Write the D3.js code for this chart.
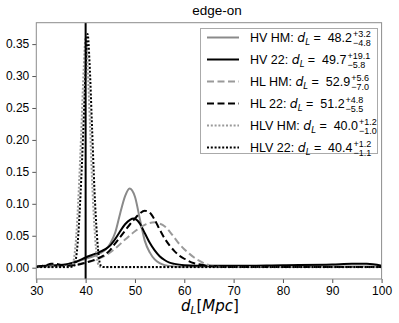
<!DOCTYPE html>
<html><head><meta charset="utf-8">
<script src="https://cdn.jsdelivr.net/npm/d3@7"></script>
<style>
html,body{margin:0;padding:0;background:#fff;}
svg{display:block;}
</style></head>
<body>
<svg id="chart" width="399" height="323"></svg>
<script>
// ---------- data ----------
const titleText = "edge-on";
const xTicks = [30, 40, 50, 60, 70, 80, 90, 100];
const yTicks = [0.00, 0.05, 0.10, 0.15, 0.20, 0.25, 0.30, 0.35];
const trueDL = 40;

const seriesNames = ["HV HM", "HV 22", "HL HM", "HL 22", "HLV HM", "HLV 22"];
const medians = ["48.2", "49.7", "52.9", "51.2", "40.0", "40.4"];
const plusErr = ["3.2", "19.1", "5.6", "4.8", "1.2", "1.2"];
const minusErr = ["4.8", "5.8", "7.0", "5.5", "1.0", "1.1"];

const hvHM_x = [30,32,34,36,38,40,42,43,44,45,46,47,48,48.9,50,51,52,53,54,55,56,58,60,65,70,80,90,95,100];
const hvHM_y = [0.001,0.002,0.003,0.005,0.009,0.014,0.019,0.023,0.028,0.038,0.055,0.085,0.112,0.124,0.111,0.076,0.042,0.024,0.013,0.007,0.004,0.002,0.0015,0.0015,0.0015,0.002,0.002,0.002,0.002];

const hv22_x = [30,32,34,36,38,40,42,44,45,46,47,48,49,49.7,50.5,51,52,53,54,55,56,57,58,60,65,70,80,90,94,97,100];
const hv22_y = [0.002,0.003,0.004,0.005,0.009,0.016,0.022,0.029,0.035,0.045,0.057,0.068,0.075,0.077,0.074,0.069,0.054,0.039,0.027,0.018,0.012,0.008,0.006,0.004,0.003,0.003,0.004,0.005,0.006,0.006,0.003];

const hlHM_x = [30,33,36,38,40,42,44,46,48,50,52,53,54,55,56,57,58,59,60,61,62,63,64,65,66,68,100];
const hlHM_y = [0.001,0.002,0.003,0.005,0.008,0.012,0.019,0.030,0.044,0.057,0.067,0.070,0.071,0.069,0.065,0.057,0.047,0.037,0.029,0.022,0.016,0.011,0.007,0.004,0.002,0.001,0.001];

const hl22_x = [30,32,33,34,35,36,38,40,42,44,45,46,47,48,49,50,51,52,53,54,55,56,57,58,59,60,62,64,66,70,100];
const hl22_y = [0.001,0.004,0.006,0.006,0.004,0.003,0.004,0.008,0.013,0.021,0.028,0.038,0.048,0.058,0.068,0.077,0.085,0.089,0.086,0.075,0.060,0.046,0.035,0.026,0.019,0.014,0.007,0.004,0.002,0.001,0.001];

const hlvHM_x = [30,36,37.2,37.6,38.1,38.6,39.1,39.6,40.0,40.4,40.9,41.4,41.9,42.3,42.7,43.1,50,100];
const hlvHM_y = [0.0005,0.0005,0.002,0.012,0.05,0.12,0.21,0.31,0.36,0.315,0.22,0.12,0.05,0.015,0.003,0.001,0.0005,0.0005];

const hlv22_x = [30,36,37.6,38.0,38.5,39.0,39.5,40.0,40.4,40.8,41.3,41.8,42.3,42.7,43.1,43.5,50,100];
const hlv22_y = [0.001,0.001,0.002,0.012,0.05,0.12,0.21,0.31,0.366,0.32,0.22,0.12,0.05,0.015,0.003,0.001,0.001,0.001];

// ---------- layout / style ----------
const plot = {left: 36.3, right: 381.6, top: 22.7, bottom: 279};
const styles = [
  {color: "#8a8a8a", dash: null,     width: 2},
  {color: "#000000", dash: null,     width: 2},
  {color: "#9a9a9a", dash: "7,3.5",  width: 2},
  {color: "#000000", dash: "7,3.5",  width: 2},
  {color: "#9a9a9a", dash: "2,1.8",  width: 2},
  {color: "#000000", dash: "2,1.8",  width: 2}
];
const xsArr = [hvHM_x, hv22_x, hlHM_x, hl22_x, hlvHM_x, hlv22_x];
const ysArr = [hvHM_y, hv22_y, hlHM_y, hl22_y, hlvHM_y, hlv22_y];

const svg = d3.select("#chart");
const x = d3.scaleLinear().domain([30, 100]).range([plot.left, plot.right]);
const y = d3.scaleLinear().domain([-0.0177, 0.3835]).range([plot.bottom, plot.top]);

const tickFont = "'Liberation Sans', Arial, Helvetica, sans-serif";
const frameColor = "#8c8c8c";

svg.append("defs").append("clipPath").attr("id","clip")
  .append("rect").attr("x", plot.left).attr("y", plot.top)
  .attr("width", plot.right - plot.left).attr("height", plot.bottom - plot.top);

// axes
const xAxis = d3.axisBottom(x).tickValues(xTicks).tickFormat(d3.format("d")).tickSize(4).tickPadding(3);
const yAxis = d3.axisLeft(y).tickValues(yTicks).tickFormat(d3.format(".2f")).tickSize(4).tickPadding(3);
const gx = svg.append("g").attr("transform", `translate(0,${plot.bottom})`).call(xAxis);
const gy = svg.append("g").attr("transform", `translate(${plot.left},0)`).call(yAxis);
[gx, gy].forEach(g => {
  g.select(".domain").remove();
  g.selectAll(".tick line").attr("stroke", "#555").attr("stroke-width", 1);
  g.selectAll(".tick text").attr("fill", "#000").style("font-family", tickFont).style("font-size", "12px");
});

// curves
const line = d3.line().x(d => x(d[0])).y(d => y(d[1])).curve(d3.curveMonotoneX);
const gc = svg.append("g").attr("clip-path", "url(#clip)");
xsArr.forEach((xs, i) => {
  const pts = xs.map((v, j) => [v, ysArr[i][j]]);
  gc.append("path").datum(pts).attr("d", line)
    .attr("fill", "none").attr("stroke", styles[i].color)
    .attr("stroke-width", styles[i].width)
    .attr("stroke-dasharray", styles[i].dash)
    .attr("stroke-linejoin", "round");
});

gc.append("line").attr("x1", x(trueDL)).attr("x2", x(trueDL))
  .attr("y1", plot.top).attr("y2", plot.bottom)
  .attr("stroke", "#000").attr("stroke-width", 2);

svg.append("rect").attr("x", plot.left).attr("y", plot.top)
  .attr("width", plot.right - plot.left).attr("height", plot.bottom - plot.top)
  .attr("fill", "none").attr("stroke", frameColor).attr("stroke-width", 1);

// title
svg.append("text").attr("x", 217).attr("y", 15).attr("text-anchor", "middle")
  .style("font-family", tickFont).style("font-size", "13.5px").text(titleText);

// x label
const xl = svg.append("text").attr("x", (plot.left + plot.right) / 2 + 1).attr("y", 311)
  .attr("text-anchor", "middle").style("font-family", "'DejaVu Sans', sans-serif").style("font-size", "15px");
xl.append("tspan").style("font-style", "italic").text("d");
xl.append("tspan").style("font-style", "italic").style("font-size", "10.5px").attr("dy", 3).text("L");
xl.append("tspan").attr("dy", -3).text("[");
xl.append("tspan").style("font-style", "italic").text("Mpc");
xl.append("tspan").text("]");

// legend
const lg = {x: 200, y: 28, w: 177, h: 125};
svg.append("rect").attr("x", lg.x + 0.5).attr("y", lg.y + 0.5).attr("width", lg.w).attr("height", lg.h)
  .attr("fill", "#fff").attr("stroke", "#aaa").attr("stroke-width", 1);
seriesNames.forEach((name, i) => {
  const cy = 37.5 + i * 22;
  svg.append("line").attr("x1", 207).attr("x2", 239).attr("y1", cy).attr("y2", cy)
    .attr("stroke", styles[i].color).attr("stroke-width", styles[i].width)
    .attr("stroke-dasharray", styles[i].dash);
  const t = svg.append("text").attr("x", 250).attr("y", cy + 4.5)
    .style("font-family", tickFont).style("font-size", "12.5px");
  t.append("tspan").text(name + ": ");
  t.append("tspan").style("font-family", "'DejaVu Sans', sans-serif").style("font-style", "italic").text("d");
  t.append("tspan").style("font-family", "'DejaVu Sans', sans-serif").style("font-style", "italic")
    .style("font-size", "8.5px").attr("dy", 2.5).text("L");
  t.append("tspan").attr("dy", -2.5).text("\u00a0=\u00a0 " + medians[i]);
  const wTxt = t.node().getComputedTextLength();
  const sx = 250 + wTxt + 1;
  svg.append("text").attr("x", sx).attr("y", cy - 0.5)
    .style("font-family", tickFont).style("font-size", "9px").text("+" + plusErr[i]);
  svg.append("text").attr("x", sx).attr("y", cy + 8.5)
    .style("font-family", tickFont).style("font-size", "9px").text("\u2212" + minusErr[i]);
});
</script>
</body></html>
